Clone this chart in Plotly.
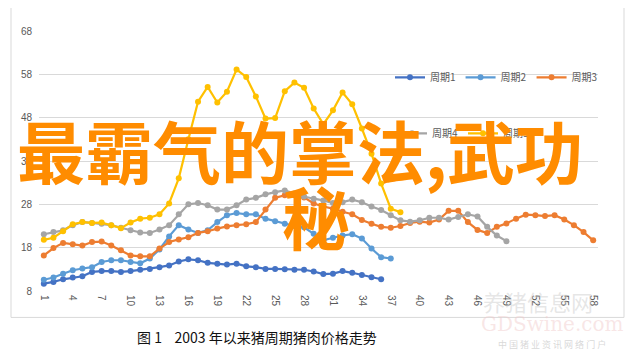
import plotly.graph_objects as go

periods = list(range(1, 59))
tick_vals = [1, 4, 7, 10, 13, 16, 19, 22, 25, 28, 31, 34, 37, 40, 43, 46, 49, 52, 55, 58]
y_ticks = [8, 18, 28, 38, 48, 58, 68]

cycle1 = [9.7, 10.1, 10.7, 11.1, 11.4, 12.4, 12.6, 12.6, 12.4, 12.6, 12.9, 13.1, 13.5, 13.9,
          14.8, 15.3, 15.1, 14.5, 14.3, 14.1, 14.3, 13.7, 13.5, 13.1, 13.1, 13.0, 12.9, 12.9,
          12.5, 11.9, 12.0, 12.6, 12.2, 11.7, 11.2, 10.7]
cycle2 = [10.6, 11.1, 12.0, 12.8, 13.2, 13.5, 14.7, 15.1, 15.1, 14.7, 14.4, 15.5, 17.6, 20.6,
          23.2, 22.2, 21.4, 22.0, 23.9, 25.5, 26.0, 25.7, 25.7, 24.7, 24.1, 23.5, 23.0, 22.7,
          21.2, 19.7, 20.3, 20.8, 21.1, 20.1, 17.8, 15.8, 15.5]
cycle3 = [16.2, 17.9, 19.1, 18.8, 18.5, 19.3, 19.4, 18.5, 17.4, 16.2, 16.0, 16.0, 17.8, 19.3,
          19.9, 20.4, 21.4, 21.8, 22.4, 22.9, 23.2, 23.4, 23.9, 26.8, 29.5, 30.1, 30.1, 29.6,
          28.2, 27.5, 27.0, 26.3, 25.7, 24.4, 23.5, 22.8, 22.6, 23.0, 23.7, 24.0, 23.8, 24.5,
          26.5, 26.5, 23.9, 22.1, 21.4, 22.8, 23.6, 24.7, 25.6, 25.5, 25.3, 25.5, 24.5, 23.2,
          21.6, 19.7]
cycle4 = [21.1, 21.6, 22.0, 23.2, 23.9, 23.7, 23.5, 23.2, 22.6, 22.0, 21.5, 21.4, 22.2, 23.2,
          25.7, 28.0, 28.3, 27.8, 26.8, 26.8, 27.8, 29.1, 29.5, 30.3, 30.8, 31.2, 30.5, 29.8,
          29.3, 28.9, 28.3, 28.5, 29.1, 28.5, 27.5, 26.7, 25.5, 24.3, 24.0, 24.3, 24.9, 24.9,
          24.5, 25.1, 25.7, 25.2, 22.8, 20.8, 19.5]
cycle5 = [19.8, 20.3, 21.8, 23.4, 23.9, 23.7, 23.8, 23.2, 22.5, 23.8, 24.7, 24.9, 25.7, 28.2,
          34.0, 43.0, 51.7, 55.1, 51.5, 54.0, 59.1, 57.4, 52.9, 47.8, 47.9, 54.1, 56.1, 54.9,
          50.1, 46.5, 49.7, 53.8, 51.1, 45.5, 39.7, 32.8, 27.0, 26.2]

names = ["周期1", "周期2", "周期3", "周期4", "周期5"]
colors = ["#4472C4", "#5B9BD5", "#ED7D31", "#A5A5A5", "#FFC000"]
series = [cycle1, cycle2, cycle3, cycle4, cycle5]
legend_ids = ["legend", "legend", "legend", "legend2", "legend2"]

fig = go.Figure()
for name, col, vals, lg in zip(names, colors, series, legend_ids):
    fig.add_trace(go.Scatter(
        x=periods[:len(vals)], y=vals, name=name, mode="lines+markers",
        line=dict(color=col, width=2.2), marker=dict(color=col, size=6),
        legend=lg,
    ))

# screen coordinates of the plot area; the page places the figure at (8, 8)
OFF = 8
SW, SH = 634, 358
L, R, T, B = 39, 598, 30.7, 290.6

def px(x):
    return (x - L) / (R - L)

def py(y):
    return (B - y) / (B - T)

tick_font = dict(family="Liberation Sans, Arial, sans-serif", size=10, color="#595959")
leg_font = dict(family="Noto Sans CJK SC, sans-serif", size=10, color="#595959")

fig.update_layout(
    width=SW - OFF, height=SH - OFF,
    margin=dict(l=L - OFF, r=SW - R, t=T - OFF, b=SH - B, autoexpand=False),
    paper_bgcolor="white", plot_bgcolor="white",
    showlegend=True,
    legend=dict(orientation="h", x=px(390), y=py(77), xanchor="left", yanchor="middle",
                font=leg_font, itemwidth=30, bgcolor="rgba(0,0,0,0)"),
    legend2=dict(orientation="h", x=px(392), y=py(133), xanchor="left", yanchor="middle",
                 font=leg_font, itemwidth=30, bgcolor="rgba(0,0,0,0)"),
    xaxis=dict(range=[0.5, 58.5], tickmode="array", tickvals=tick_vals,
               ticktext=[str(v) for v in tick_vals], tickangle=90, automargin=False,
               showgrid=False, zeroline=False, showline=False, ticks="",
               tickfont=tick_font, fixedrange=True, ticklabelstandoff=3),
    yaxis=dict(range=[8, 68], tickmode="array", tickvals=y_ticks, automargin=False,
               showgrid=True, gridcolor="#D9D9D9", gridwidth=1, zeroline=False,
               showline=False, ticks="", tickfont=tick_font, fixedrange=True,
               ticklabelstandoff=6),
)

# outer chart border
fig.add_shape(type="rect", xref="paper", yref="paper",
              x0=px(11), x1=px(624), y0=py(317), y1=py(6),
              line=dict(color="#D9D9D9", width=1), layer="below")

def note(text, x, y, font):
    fig.add_annotation(text=text, xref="paper", yref="paper", x=px(x), y=py(y),
                       xanchor="center", yanchor="middle", showarrow=False, font=font)

# caption
note("图 1    2003 年以来猪周期猪肉价格走势", 257, 337,
     dict(family="Noto Sans CJK SC, sans-serif", size=14, color="#111111"))

# watermark
note("养猪信息网", 538, 301,
     dict(family="Noto Sans CJK SC, sans-serif", size=22, color="rgba(200,200,200,0.45)"))
note("GDSwine.com", 552, 324,
     dict(family="DejaVu Serif, serif", size=20, color="rgba(240,200,200,0.45)"))
note("中 国 猪 业 资 讯 网 络 门 户", 552, 344,
     dict(family="Noto Sans CJK SC, sans-serif", size=9, color="rgba(190,190,190,0.6)"))

# overlay title text
big_font = dict(family="Noto Sans CJK SC, sans-serif", size=68, color="#FF8C00", weight=700)
note("最霸气的掌法,武功", 300, 149, big_font)
note("秘", 316, 215, big_font)

fig.write_html("out.html")
